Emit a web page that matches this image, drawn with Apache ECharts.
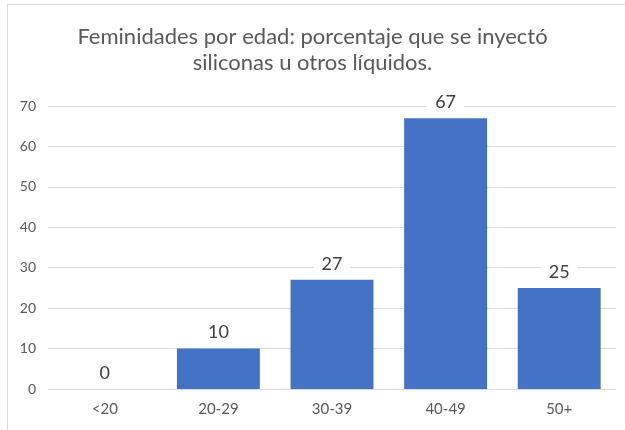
<!DOCTYPE html>
<html>
<head>
<meta charset="utf-8">
<script src="https://cdn.jsdelivr.net/npm/echarts@6/dist/echarts.min.js"></script>
<style>
  html, body { margin: 0; padding: 0; background: #fff; }
  #chart { width: 625px; height: 430px; }
</style>
</head>
<body>
<div id="chart"></div>
<script>
const categories = ["<20", "20-29", "30-39", "40-49", "50+"];
const values = [0, 10, 27, 67, 25];
const titleText = "Feminidades por edad: porcentaje que se inyectó\nsiliconas u otros líquidos.";

const chart = echarts.init(document.getElementById("chart"));
const option = {
  animation: false,
  textStyle: { fontFamily: "Lato, 'Open Sans', sans-serif" },
  graphic: [
    {
      type: "rect",
      shape: { x: 7.5, y: 4.5, width: 640, height: 450 },
      style: { fill: "none", stroke: "#d9d9d9", lineWidth: 1 },
      silent: true,
    },
  ],
  title: {
    text: titleText,
    left: "center",
    top: 19,
    textStyle: {
      fontFamily: "Lato, sans-serif",
      fontSize: 22,
      fontWeight: "normal",
      color: "#595959",
      lineHeight: 26,
    },
  },
  grid: {
    left: 48,
    right: 9,
    top: 106,
    bottom: 41,
  },
  xAxis: {
    type: "category",
    data: categories,
    axisLine: { lineStyle: { color: "#d9d9d9" } },
    axisTick: { show: false },
    axisLabel: { color: "#595959", fontSize: 15, margin: 13 },
  },
  yAxis: {
    type: "value",
    min: 0,
    max: 70,
    interval: 10,
    axisLine: { show: false },
    axisTick: { show: false },
    axisLabel: { color: "#595959", fontSize: 14, margin: 12 },
    splitLine: { lineStyle: { color: "#d9d9d9" } },
  },
  series: [
    {
      type: "bar",
      data: values,
      barCategoryGap: "27%",
      itemStyle: { color: "#4472c4" },
      label: {
        show: true,
        position: "top",
        distance: 5,
        color: "#404040",
        fontSize: 18,
        backgroundColor: "#fff",
        padding: [2, 8],
      },
    },
  ],
};
chart.setOption(option);
</script>
</body>
</html>
